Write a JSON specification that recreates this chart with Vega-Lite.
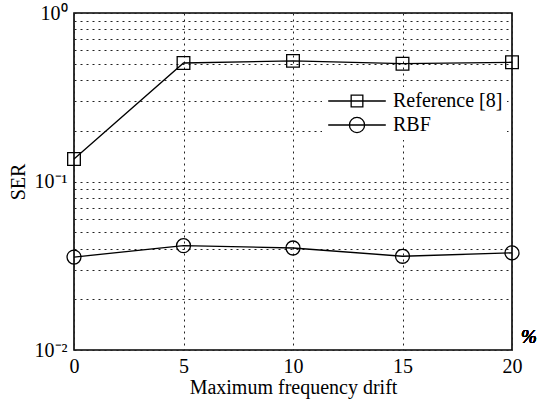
{
  "$schema": "https://vega.github.io/schema/vega-lite/v6.json",
  "width": 438,
  "height": 337,
  "padding": {"left": 8, "top": 3, "right": 5, "bottom": 5},
  "config": {
    "font": "Liberation Serif",
    "view": {"stroke": "black", "strokeWidth": 1.6},
    "axis": {
      "labelFont": "Liberation Serif",
      "titleFont": "Liberation Serif",
      "labelFontSize": 20,
      "titleFontSize": 20,
      "labelColor": "black",
      "titleColor": "black",
      "titleFontWeight": "normal",
      "domain": false,
      "ticks": false,
      "gridColor": "#222222",
      "gridDash": [2, 4],
      "gridWidth": 1,
      "gridOpacity": 1
    },
    "legend": {
      "labelFont": "Liberation Serif",
      "labelFontSize": 20,
      "labelColor": "black"
    }
  },
  "data": {
    "values": [
      {"method": "Reference [8]", "drift": 0, "ser": 0.136},
      {"method": "Reference [8]", "drift": 5, "ser": 0.505},
      {"method": "Reference [8]", "drift": 10, "ser": 0.52},
      {"method": "Reference [8]", "drift": 15, "ser": 0.5},
      {"method": "Reference [8]", "drift": 20, "ser": 0.51},
      {"method": "RBF", "drift": 0, "ser": 0.0356},
      {"method": "RBF", "drift": 5, "ser": 0.0416},
      {"method": "RBF", "drift": 10, "ser": 0.0403},
      {"method": "RBF", "drift": 15, "ser": 0.036},
      {"method": "RBF", "drift": 20, "ser": 0.0377}
    ]
  },
  "encoding": {
    "x": {
      "field": "drift",
      "type": "quantitative",
      "scale": {"domain": [0, 20], "nice": false, "zero": false},
      "axis": {
        "values": [0, 5, 10, 15, 20],
        "title": "Maximum frequency drift",
        "labelPadding": 6,
        "titlePadding": 1,
        "labelFlush": false
      }
    },
    "y": {
      "field": "ser",
      "type": "quantitative",
      "scale": {"type": "log", "domain": [0.01, 1], "nice": false},
      "axis": {
        "values": [0.01, 0.02, 0.03, 0.04, 0.05, 0.06, 0.07, 0.08, 0.09, 0.1, 0.2, 0.3, 0.4, 0.5, 0.6, 0.7, 0.8, 0.9, 1],
        "labelExpr": "datum.value === 1 ? '10⁰' : datum.value === 0.1 ? '10⁻¹' : datum.value === 0.01 ? '10⁻²' : ''",
        "labelOverlap": false,
        "title": "SER",
        "labelPadding": 7,
        "titlePadding": 6
      }
    }
  },
  "layer": [
    {
      "mark": {"type": "line", "color": "black", "strokeWidth": 1.3},
      "encoding": {"detail": {"field": "method"}}
    },
    {
      "transform": [{"filter": "datum.method === 'Reference [8]'"}],
      "mark": {"type": "point", "shape": "square", "filled": false, "color": "black", "strokeWidth": 1.3, "opacity": 1, "size": 160}
    },
    {
      "transform": [{"filter": "datum.method === 'RBF'"}],
      "mark": {"type": "point", "shape": "circle", "filled": false, "color": "black", "strokeWidth": 1.3, "opacity": 1, "size": 195}
    },
    {
      "description": "Key entries: line-through-marker glyphs for each series",
      "mark": {"type": "point", "filled": false, "color": "black", "strokeWidth": 1.3, "opacity": 0},
      "encoding": {
        "shape": {
          "field": "method",
          "type": "nominal",
          "scale": {
            "domain": ["Reference [8]", "RBF"],
            "range": [
              "M-3.6,0H3.6M-0.73,-0.73H0.73V0.73H-0.73Z",
              "M-3.6,0H3.6M-0.95,0A0.95,0.95 0 1,1 0.95,0A0.95,0.95 0 1,1 -0.95,0Z"
            ]
          },
          "legend": {
            "title": null,
            "orient": "none",
            "legendX": 248,
            "legendY": 74,
            "fillColor": "white",
            "padding": 4,
            "symbolSize": 256,
            "symbolOffset": 21,
            "labelOffset": 26,
            "rowPadding": 3,
            "symbolOpacity": 1,
            "symbolStrokeColor": "black",
            "symbolStrokeWidth": 1.3,
            "symbolFillColor": "transparent"
          }
        }
      }
    },
    {
      "mark": {"type": "text", "text": "%", "font": "Liberation Serif", "fontSize": 19, "fontStyle": "italic", "fontWeight": "normal", "color": "black", "dx": 17, "dy": -13},
      "encoding": {
        "x": {"datum": 20, "type": "quantitative"},
        "y": {"datum": 0.01, "type": "quantitative"}
      }
    }
  ]
}
